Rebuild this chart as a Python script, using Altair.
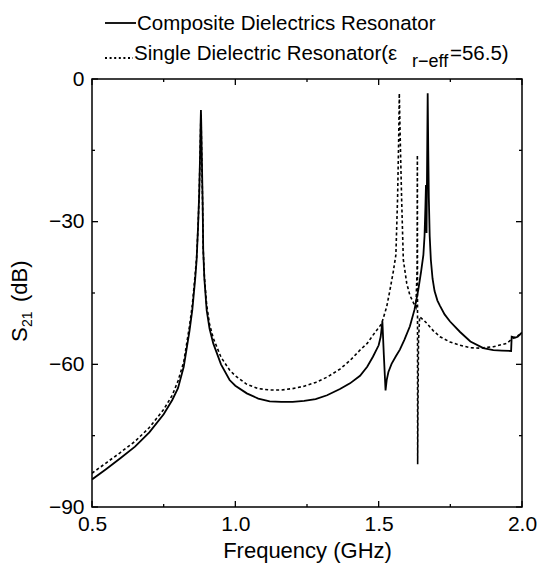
import altair as alt
import pandas as pd

# ---- data ----
comp_f = [0.50, 0.55, 0.60, 0.65, 0.70, 0.75, 0.78, 0.80, 0.82, 0.84, 0.85, 0.86, 0.865, 0.87,
          0.874, 0.877, 0.879, 0.880, 0.881, 0.883, 0.886, 0.888, 0.892, 0.90, 0.91, 0.923,
          0.95, 0.98, 1.00, 1.04, 1.08, 1.12, 1.16, 1.20, 1.24, 1.28, 1.32, 1.365, 1.40,
          1.435, 1.46, 1.48, 1.50, 1.507, 1.513, 1.518, 1.524, 1.528, 1.534, 1.545, 1.560,
          1.574, 1.59, 1.609, 1.625, 1.638, 1.648, 1.656, 1.660, 1.663, 1.665, 1.667, 1.671,
          1.673, 1.675, 1.678, 1.682, 1.688, 1.695, 1.705, 1.714, 1.73, 1.749, 1.784, 1.82,
          1.865, 1.90, 1.93, 1.962, 1.964, 1.975, 1.985, 1.995, 2.00]
comp_db = [-84.2, -82.0, -79.7, -77.3, -74.3, -70.5, -67.5, -65.0, -60.5, -53.0, -48.5, -42.0,
           -38.0, -31.0, -24.0, -16.0, -9.0, -6.5, -9.0, -16.0, -26.0, -36.0, -42.0, -48.6,
           -52.5, -55.6, -60.0, -63.3, -64.5, -66.1, -67.2, -67.8, -67.9, -67.9, -67.7, -67.3,
           -66.5, -65.2, -64.0, -62.4, -60.5, -58.4, -56.0, -54.2, -51.0, -58.0, -65.5, -63.3,
           -61.6, -59.9, -58.3, -56.9, -54.8, -52.0, -48.5, -44.4, -40.5, -37.0, -33.0, -27.0,
           -22.3, -32.4, -3.0, -15.0, -25.0, -33.0, -38.0, -42.0, -44.6, -46.6, -47.7, -49.5,
           -51.0, -53.2, -55.2, -56.6, -57.0, -57.1, -57.2, -54.2, -54.4, -54.2, -53.6, -53.3]

single_f = [0.50, 0.55, 0.60, 0.65, 0.70, 0.75, 0.78, 0.80, 0.82, 0.84, 0.85, 0.86, 0.865, 0.87,
            0.874, 0.877, 0.879, 0.880, 0.881, 0.883, 0.886, 0.888, 0.892, 0.90, 0.91, 0.923,
            0.95, 0.98, 1.00, 1.04, 1.08, 1.12, 1.16, 1.20, 1.24, 1.28, 1.32, 1.365, 1.40,
            1.435, 1.46, 1.481, 1.51, 1.528, 1.539, 1.551, 1.560, 1.566, 1.570, 1.572, 1.575,
            1.580, 1.586, 1.598, 1.609, 1.621, 1.630, 1.634, 1.635, 1.636, 1.637, 1.639, 1.643,
            1.655, 1.667, 1.69, 1.714, 1.749, 1.784, 1.82, 1.853, 1.90, 1.946, 1.969, 1.985, 2.00]
single_db = [-82.9, -80.7, -78.5, -76.2, -73.3, -69.5, -66.5, -63.5, -59.5, -52.0, -47.5, -41.0,
             -37.5, -31.0, -24.0, -16.0, -10.0, -7.5, -10.0, -17.0, -27.0, -36.0, -41.5, -47.5,
             -51.5, -54.5, -58.5, -61.2, -62.4, -64.2, -65.1, -65.4, -65.4, -65.1, -64.6, -63.8,
             -62.7, -61.0, -59.2, -57.0, -55.6, -53.8, -51.5, -47.9, -44.5, -40.5, -37.0, -25.0,
             -12.0, -3.0, -12.0, -25.0, -38.0, -43.0, -45.5, -47.0, -48.0, -40.0, -16.0, -81.0,
             -70.0, -55.0, -50.0, -50.6, -51.3, -52.9, -54.2, -55.3, -56.0, -56.5, -56.6, -56.3,
             -55.6, -54.5, -54.0, -53.5]

x_major = [0.5, 1.0, 1.5, 2.0]
x_minor = [0.75, 1.25, 1.75]
y_major = [0, -30, -60, -90]
y_minor = [-15, -45, -75]

legend_1 = "Composite Dielectrics Resonator"
legend_2a = "Single Dielectric Resonator(\u03b5"
legend_2b = "r\u2212eff"
legend_2c = "=56.5)"

FONT = "Liberation Sans"
W, H = 430, 428

df = pd.concat([
    pd.DataFrame({"f": comp_f, "db": comp_db, "series": "composite",
                  "order": range(len(comp_f))}),
    pd.DataFrame({"f": single_f, "db": single_db, "series": "single",
                  "order": range(len(single_f))}),
], ignore_index=True)

xs = alt.Scale(domain=[0.5, 2.0], nice=False, zero=False)
ys = alt.Scale(domain=[-90, 0], nice=False, zero=False)

base = alt.Chart(df)

solid = base.transform_filter(alt.datum.series == "composite").mark_line(
    color="black", strokeWidth=1.8, clip=True
).encode(
    x=alt.X("f:Q", scale=xs, axis=alt.Axis(
        values=x_major, format=".1f", ticks=False, domain=False, grid=False,
        labelFlush=False, labelOverlap=False,
        labelFontSize=21, labelFont=FONT, labelColor="black", labelPadding=6,
        title="Frequency (GHz)", titleFont=FONT, titleFontSize=22,
        titleFontWeight="normal", titleColor="black", titlePadding=6)),
    y=alt.Y("db:Q", scale=ys, axis=alt.Axis(
        values=y_major, ticks=False, domain=False, grid=False,
        labelFlush=False, labelOverlap=False,
        labelFontSize=21, labelFont=FONT, labelColor="black", labelPadding=8,
        title=None)),
    order="order:Q",
)

dotted = base.transform_filter(alt.datum.series == "single").mark_line(
    color="black", strokeWidth=1.6, strokeDash=[3, 2.5], clip=True
).encode(
    x=alt.X("f:Q", scale=xs),
    y=alt.Y("db:Q", scale=ys),
    order="order:Q",
)

def xticks(vals, y0, y1):
    return alt.Chart(pd.DataFrame({"v": vals})).mark_rule(
        color="black", strokeWidth=1.3).encode(
        x=alt.X("v:Q", scale=xs), y=alt.value(y0), y2=alt.value(y1))

def yticks(vals, x0, x1):
    return alt.Chart(pd.DataFrame({"v": vals})).mark_rule(
        color="black", strokeWidth=1.3).encode(
        y=alt.Y("v:Q", scale=ys), x=alt.value(x0), x2=alt.value(x1))

ticks = [
    xticks(x_major, H, H - 6), xticks(x_minor, H, H - 3),
    xticks(x_major, 0, 6), xticks(x_minor, 0, 3),
    yticks(y_major, 0, 6), yticks(y_minor, 0, 3),
    yticks(y_major, W, W - 6), yticks(y_minor, W, W - 3),
]

one = pd.DataFrame({"a": [0]})

def txt(s, x, y, size, angle=0):
    return alt.Chart(one).mark_text(
        text=s, font=FONT, fontSize=size, color="black", align="left",
        baseline="alphabetic", angle=angle
    ).encode(x=alt.value(x), y=alt.value(y))

legend = [
    alt.Chart(one).mark_rule(color="black", strokeWidth=1.8).encode(
        x=alt.value(13), x2=alt.value(44), y=alt.value(-56)),
    txt(legend_1, 45, -49, 20.5),
    alt.Chart(one).mark_rule(color="black", strokeWidth=1.8, strokeDash=[2, 2.6]).encode(
        x=alt.value(13), x2=alt.value(41), y=alt.value(-21)),
    txt(legend_2a, 42, -19, 20.5),
    txt(legend_2b, 320, -12, 18),
    txt(legend_2c, 358, -19, 20.5),
]

ytitle = [
    txt("S", -65, 263, 22, angle=270),
    txt("21", -60, 248, 14, angle=270),
    txt("(dB)", -65, 223, 22, angle=270),
]

chart = alt.layer(solid, dotted, *ticks, *legend, *ytitle).properties(
    width=W, height=H,
    autosize=alt.AutoSizeParams(type="none"),
    padding={"left": 92, "top": 79, "right": 16, "bottom": 68},
).configure_view(stroke="black", strokeWidth=1.5)

chart.save("out.html", embed_options={"renderer": "svg", "actions": False})
